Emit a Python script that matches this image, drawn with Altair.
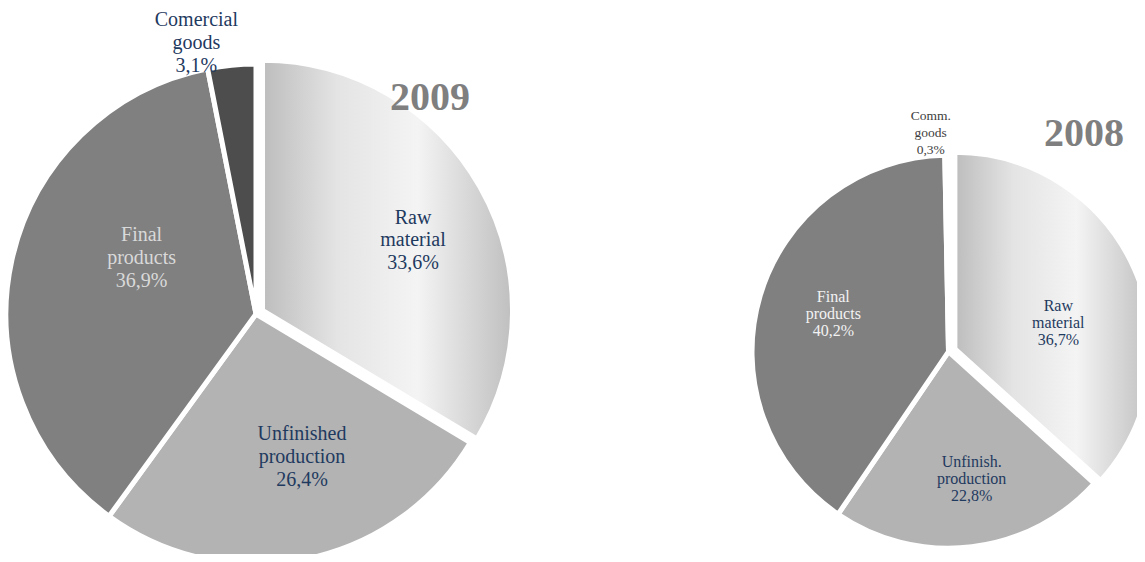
import math
import altair as alt
import pandas as pd

# ---------------- data ----------------
cats = ["Raw material", "Unfinished production", "Final products", "Commercial goods"]
years = ["2009", "2008"]
pct_2009 = [33.6, 26.4, 36.9, 3.1]
pct_2008 = [36.7, 22.8, 40.2, 0.3]
names_2009 = ["Raw\nmaterial", "Unfinished\nproduction", "Final\nproducts", "Comercial\ngoods"]
names_2008 = ["Raw\nmaterial", "Unfinish.\nproduction", "Final\nproducts", "Comm.\ngoods"]

# ---------------- layout / style ----------------
FONT = "Liberation Serif"
NAVY = "#1f3a5f"
SLICE_COLORS = ["#c8c8c8", "#b3b3b3", "#808080", "#4d4d4d"]
RAW_GRADIENT = alt.Gradient(
    gradient="linear",
    stops=[
        alt.GradientStop(color="#bdbdbd", offset=0),
        alt.GradientStop(color="#e4e4e4", offset=0.3),
        alt.GradientStop(color="#f4f4f4", offset=0.62),
        alt.GradientStop(color="#bfbfbf", offset=1),
    ],
    x1=0, x2=1, y1=0, y2=0,
)
PIE = {
    "2009": dict(cx=248, cy=306, r=250, explode=7.5, lh=22.8),
    "2008": dict(cx=940.5, cy=343.7, r=196.5, explode=7.0, lh=17),
}
# position of the first text line of each label (chart pixels)
LABEL_POS = {
    "2009": [(405, 209.5), (294, 426), (133.6, 227), (188.4, 12.4)],
    "2008": [(1050.3, 297.5), (963.7, 454), (825.3, 288.5), (922.7, 107.5)],
}
LABEL_COLOR = {
    "2009": [NAVY, NAVY, "#d9d9d9", NAVY],
    "2008": [NAVY, NAVY, "#f2f2f2", "#404040"],
}
LABEL_SIZE = {"2009": [20, 20, 20, 20], "2008": [16, 16, 16, 13.5]}
TITLE_POS = {"2009": (422, 89.5), "2008": (1076, 126)}
STROKE_W = 5


def fmt(v):
    return f"{v:.1f}".replace(".", ",") + "%"


def pie_layers(year, pct, names):
    P = PIE[year]
    rows = []
    for i, (c, v, n) in enumerate(zip(cats, pct, names)):
        lx, ly = LABEL_POS[year][i]
        rows.append(dict(cat=c, order=i, pct=v, label=n + "\n" + fmt(v),
                         lx=lx, ly=ly, tcolor=LABEL_COLOR[year][i],
                         fs=LABEL_SIZE[year][i]))
    df = pd.DataFrame(rows)

    base = alt.Chart(df).transform_window(
        end="sum(pct)", sort=[alt.SortField("order", order="ascending")], frame=[None, 0]
    ).transform_calculate(start="datum.end - datum.pct")

    theta = alt.Theta("start:Q", scale=alt.Scale(domain=[0, 100]))
    theta2 = alt.Theta2("end:Q")

    rest = base.transform_filter("datum.cat != 'Raw material'").mark_arc(
        radius=P["r"], stroke="white", strokeWidth=STROKE_W
    ).encode(
        theta=theta, theta2=theta2,
        color=alt.Color("cat:N", scale=alt.Scale(domain=cats, range=SLICE_COLORS), legend=None),
        x=alt.value(P["cx"]), y=alt.value(P["cy"]),
    )

    mid = pct[0] / 2 / 100 * 2 * math.pi
    dx = P["explode"] * math.sin(mid)
    dy = -P["explode"] * math.cos(mid)
    raw = base.transform_filter("datum.cat == 'Raw material'").mark_arc(
        radius=P["r"], stroke="white", strokeWidth=STROKE_W, fill=RAW_GRADIENT
    ).encode(
        theta=theta, theta2=theta2,
        x=alt.value(P["cx"] + dx), y=alt.value(P["cy"] + dy),
    )

    labels = alt.Chart(df).mark_text(
        font=FONT, lineBreak="\n", lineHeight=P["lh"], align="center", baseline="middle"
    ).encode(
        x=alt.X("lx:Q", scale=None, axis=None),
        y=alt.Y("ly:Q", scale=None, axis=None),
        text="label:N",
        color=alt.Color("tcolor:N", scale=None),
        size=alt.Size("fs:Q", scale=None),
    )

    tx, ty = TITLE_POS[year]
    title = alt.Chart(pd.DataFrame({"year": [year]})).mark_text(
        font=FONT, fontSize=40, fontWeight="bold", color="#7f7f7f",
        align="center", baseline="middle"
    ).encode(text="year:N", x=alt.value(tx), y=alt.value(ty))

    return [rest, raw, labels, title]


layers = pie_layers("2009", pct_2009, names_2009) + pie_layers("2008", pct_2008, names_2008)

chart = alt.layer(*layers).properties(
    width=1129, height=546,
    autosize=alt.AutoSizeParams(type="none"),
    padding=0,
).configure_view(stroke=None)

chart.save("out.html", embed_options={"renderer": "svg", "actions": False})
